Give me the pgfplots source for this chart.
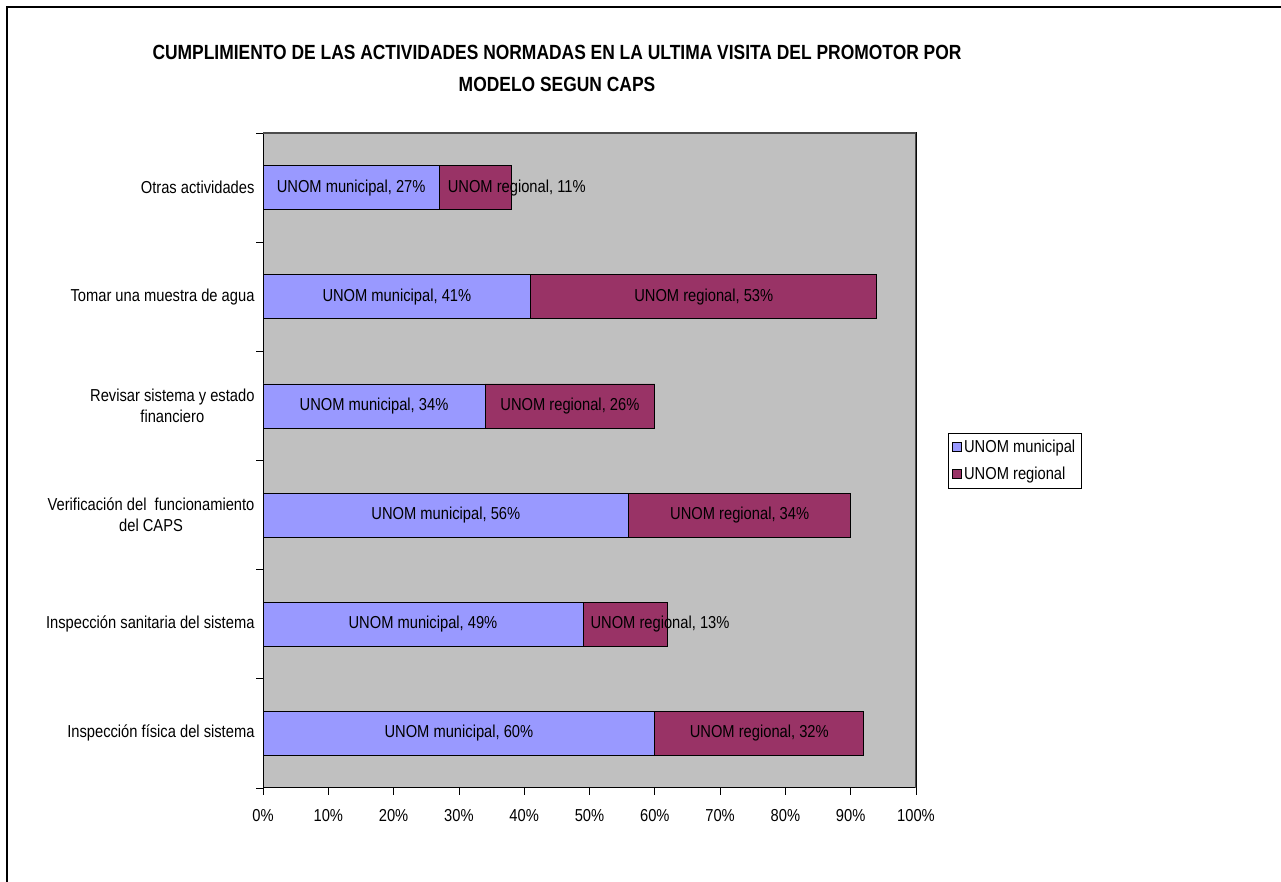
\documentclass[border=0pt]{standalone}
\usepackage{pgfplots}
\pgfplotsset{compat=1.18}
\usepackage{pgfplotstable}
\usepackage{fontspec}
\setmainfont{Liberation Sans}[FakeStretch=0.85]
\definecolor{munc}{RGB}{153,153,255}
\definecolor{regc}{RGB}{153,51,102}
\definecolor{bgc}{RGB}{192,192,192}
% sh = horizontal shift (pt) of the regional label where it does not fit its bar
\pgfplotstableread{
y mun reg sh
1 60 32 0
2 49 13 34.6
3 56 34 0
4 34 26 0
5 41 53 0
6 27 11 41.5
}\datatable
\begin{document}
\begin{tikzpicture}[x=1pt,y=1pt]
\useasboundingbox (0,0) rectangle (1281,882);
\draw[line width=2.2pt] (7,0) -- (7,875) -- (1281,875);
\node[font=\bfseries\fontsize{20.5}{32}\selectfont, align=center] at (557,814)
  {CUMPLIMIENTO DE LAS ACTIVIDADES NORMADAS EN LA ULTIMA VISITA DEL PROMOTOR POR\\MODELO SEGUN CAPS};
\begin{axis}[
  at={(263pt,94pt)}, anchor=south west,
  scale only axis, width=653pt, height=655pt,
  font=\fontsize{17.3}{21}\selectfont,
  xbar stacked, bar width=44pt,
  xmin=0, xmax=100, ymin=0.5, ymax=6.5,
  axis background/.style={fill=bgc},
  axis line style={draw=black, line width=1pt},
  xtick={0,10,...,100},
  xticklabels={0\%,10\%,20\%,30\%,40\%,50\%,60\%,70\%,80\%,90\%,100\%},
  ytick={0.5,1.5,...,6.5}, yticklabels={},
  xtick pos=bottom, ytick pos=left,
  tick align=outside, major tick length=7pt,
  tick style={black, line width=0.8pt},
  extra y ticks={1,2,3,4,5,6},
  extra y tick labels={Inspección física del sistema,Inspección sanitaria del sistema,{Verificación del\ \ funcionamiento\\del CAPS},{Revisar sistema y estado\\financiero},Tomar una muestra de agua,Otras actividades},
  extra y tick style={major tick length=0pt, yticklabel style={align=center, xshift=-5pt}},
  xticklabel style={yshift=-11pt},
  legend style={at={(1.049,0.5)}, anchor=west, draw=black, line width=0.6pt,
    font=\fontsize{17.3}{21}\selectfont, inner xsep=4pt, inner ysep=5pt, row sep=9pt,
    cells={anchor=west}},
  legend image code/.code={\draw[#1, line width=0.8pt] (0pt,-4.5pt) rectangle (9pt,4.5pt);},
  legend cell align=left,
]
\draw[gray!60!black, line width=1.4pt] (rel axis cs:0,1) -- (rel axis cs:1,1) -- (rel axis cs:1,0);
\addplot[fill=munc, draw=black, line width=0.8pt,
  visualization depends on={\thisrow{mun} \as \myval},
  nodes near coords={UNOM municipal, \pgfmathprintnumber[assume math mode=true, fixed, precision=0]{\myval}\%},
  every node near coord/.append style={anchor=center, text=black}]
  table[x=mun, y=y] {\datatable};
\addlegendentry{UNOM municipal}
\addplot[fill=regc, draw=black, line width=0.8pt,
  visualization depends on={\thisrow{reg} \as \myval},
  visualization depends on={\thisrow{sh} \as \myshift},
  nodes near coords={UNOM regional, \pgfmathprintnumber[assume math mode=true, fixed, precision=0]{\myval}\%},
  every node near coord/.append style={anchor=center, text=black, xshift={\myshift*1pt}}]
  table[x=reg, y=y] {\datatable};
\addlegendentry{UNOM regional}
\end{axis}
\end{tikzpicture}
\end{document}
